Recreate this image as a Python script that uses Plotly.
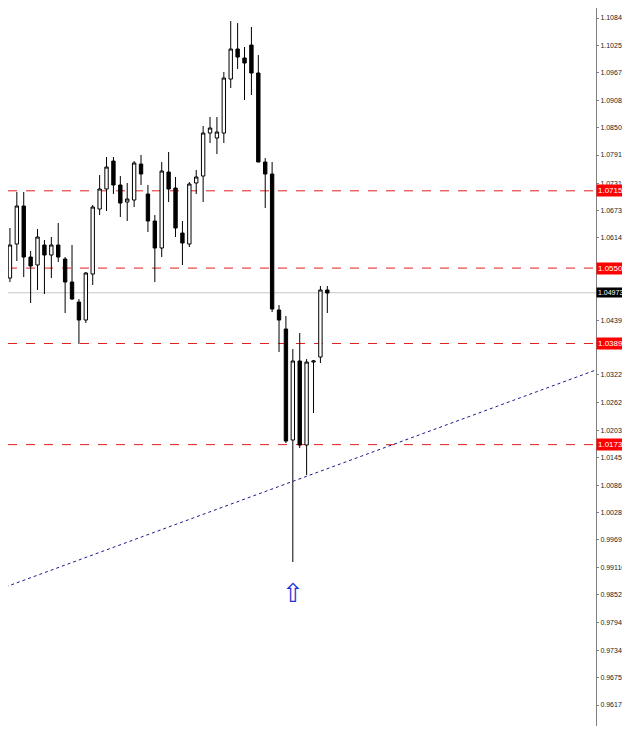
import plotly.graph_objects as go

# candle OHLC (oldest -> newest)
opens = [1.06228, 1.05288, 1.06014, 1.06826, 1.05736, 1.05566, 1.05993, 1.05779, 1.05993, 1.05694,
         1.05203, 1.04775, 1.04391, 1.05373, 1.06761, 1.07189, 1.07786, 1.07274, 1.06911, 1.06954,
         1.07722, 1.07082, 1.06505, 1.05929, 1.07551, 1.07210, 1.06249, 1.06014, 1.07317, 1.07466,
         1.08384, 1.08278, 1.08384, 1.09537, 1.10178, 1.09986, 1.10263, 1.09666, 1.07765, 1.07509,
         1.04605, 1.04199, 1.01829, 1.03516, 1.01722, 1.03494, 1.03601, 1.05032]
highs = [1.06505, 1.06356, 1.07124, 1.07124, 1.05865, 1.06334, 1.06100, 1.06164, 1.06462, 1.05736,
         1.05993, 1.04840, 1.05416, 1.06847, 1.07487, 1.07872, 1.07872, 1.07466, 1.07317, 1.07786,
         1.07915, 1.07274, 1.06633, 1.07765, 1.07979, 1.07445, 1.06505, 1.07338, 1.07594, 1.08534,
         1.08726, 1.08726, 1.09687, 1.10776, 1.10733, 1.10221, 1.10648, 1.10050, 1.07850, 1.07765,
         1.04711, 1.04477, 1.03772, 1.04114, 1.03558, 1.03537, 1.05117, 1.05117]
lows = [1.05224, 1.05203, 1.05651, 1.05309, 1.04754, 1.05032, 1.04946, 1.05288, 1.05630, 1.04541,
        1.04820, 1.03879, 1.04327, 1.05139, 1.06633, 1.06719, 1.07082, 1.06591, 1.06505, 1.06804,
        1.07274, 1.06270, 1.05203, 1.05736, 1.06911, 1.06164, 1.05566, 1.05950, 1.07082, 1.06911,
        1.08171, 1.07936, 1.08171, 1.09345, 1.09751, 1.09089, 1.09196, 1.07765, 1.06783, 1.04562,
        1.03708, 1.01765, 0.99224, 1.01658, 1.01082, 1.02405, 1.03473, 1.04541]
closes = [1.05309, 1.05993, 1.06826, 1.05736, 1.05544, 1.06164, 1.05779, 1.05993, 1.05736, 1.05203,
          1.04840, 1.04391, 1.05395, 1.06804, 1.07189, 1.07658, 1.07274, 1.06889, 1.06975, 1.07744,
          1.07509, 1.06505, 1.05929, 1.07573, 1.07189, 1.06356, 1.06036, 1.07295, 1.07445, 1.08384,
          1.08491, 1.08406, 1.09559, 1.10178, 1.10007, 1.09879, 1.09666, 1.07765, 1.07509, 1.04626,
          1.04391, 1.01807, 1.03516, 1.01722, 1.03494, 1.03516, 1.05032, 1.04968]

levels = [1.0715, 1.0550, 1.0389, 1.0173]
last_price = 1.04973
trend_x = [-0.45, 85.9]
trend_y = [0.98647, 1.03323]
arrow_price = 0.98560

tick_vals = [1.10840, 1.10255, 1.09670, 1.09085, 1.08500, 1.07915, 1.07315, 1.06730, 1.06145,
             1.04390, 1.03220, 1.02620, 1.02035, 1.01450, 1.00865, 1.00280, 0.99695, 0.99110,
             0.98525, 0.97940, 0.97340, 0.96755, 0.96170]

x = list(range(len(opens)))
label_font = "Liberation Sans Narrow, Liberation Sans"

fig = go.Figure()
fig.add_trace(go.Candlestick(
    x=x, open=opens, high=highs, low=lows, close=closes,
    increasing=dict(fillcolor="white", line=dict(color="black", width=1)),
    decreasing=dict(fillcolor="black", line=dict(color="black", width=1)),
    whiskerwidth=0, showlegend=False))

fig.add_trace(go.Scatter(x=trend_x, y=trend_y, mode="lines",
                         line=dict(color="#1a1a8c", width=1, dash="dot"),
                         showlegend=False, hoverinfo="skip"))

for lv in levels:
    fig.add_hline(y=lv, line=dict(color="#e02020", width=1, dash="dash"), layer="below")
    fig.add_annotation(x=1, xref="paper", y=lv, yref="y", text=f"{lv:.4f}",
                       xanchor="left", showarrow=False, bgcolor="#ff0000",
                       font=dict(color="white", size=8, family=label_font),
                       borderpad=1, width=24, align="left")
fig.add_hline(y=last_price, line=dict(color="#c8c8c8", width=1), layer="below")
fig.add_annotation(x=1, xref="paper", y=last_price, yref="y", text=f"{last_price:.5f}",
                   xanchor="left", showarrow=False, bgcolor="black",
                   font=dict(color="white", size=7, family=label_font),
                   borderpad=1, width=24, align="left")

fig.add_annotation(x=42, y=arrow_price, text="⇧", showarrow=False,
                   font=dict(color="#1f2fd8", size=26, family="DejaVu Sans"))

# page body has an 8px margin, so the figure is sized to fit inside the window
fig.update_layout(
    width=622, height=718, margin=dict(l=0, r=34, t=0, b=0, autoexpand=False),
    paper_bgcolor="white", plot_bgcolor="white",
    xaxis=dict(range=[0.72, 85.94], visible=False, rangeslider=dict(visible=False)),
    yaxis=dict(range=[0.95722, 1.11054], side="right", tickvals=tick_vals,
               ticktext=[f"{v:.5f}" for v in tick_vals], showgrid=False,
               showline=True, linecolor="#808080", ticks="outside", ticklen=2,
               tickcolor="#808080", tickfont=dict(size=7, family=label_font, color="#222"),
               zeroline=False),
)

fig.write_html("out.html")
